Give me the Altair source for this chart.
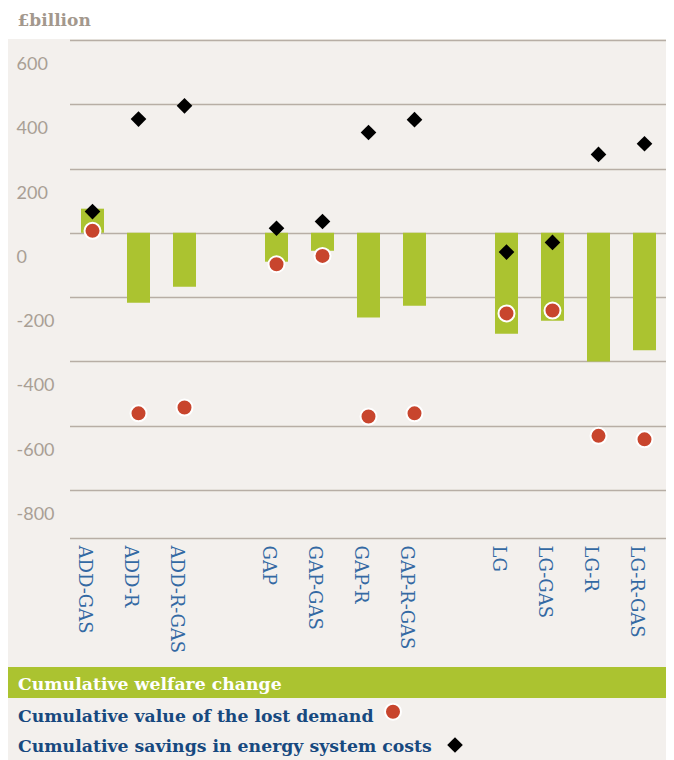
import altair as alt
import pandas as pd

# ---- data ----
scenarios = ["ADD-GAS", "ADD-R", "ADD-R-GAS", "GAP", "GAP-GAS", "GAP-R", "GAP-R-GAS",
             "LG", "LG-GAS", "LG-R", "LG-R-GAS"]
welfare = [75, -218, -168, -90, -56, -264, -227, -314, -274, -401, -366]
lost_demand = [6, -562, -544, -98, -72, -572, -562, -251, -242, -632, -643]
savings = [66, 354, 395, 14, 35, 312, 352, -60, -30, 244, 277]
x_order = ["ADD-GAS", "ADD-R", "ADD-R-GAS", "gap1", "GAP", "GAP-GAS", "GAP-R", "GAP-R-GAS",
           "gap2", "LG", "LG-GAS", "LG-R", "LG-R-GAS"]
y_ticks = [600, 400, 200, 0, -200, -400, -600, -800, -950]
legend_labels = ["Cumulative welfare change", "Cumulative value of the lost demand",
                 "Cumulative savings in energy system costs"]

df = pd.DataFrame({"scenario": scenarios, "welfare": welfare,
                   "lost": lost_demand, "savings": savings})

W, H = 658, 498
BG = "#f3f0ed"
GRID = "#b7aea5"
GREEN = "#abc330"
RED = "#c8452d"
BLUE_LBL = "#3369a3"
BLUE_LEG = "#17497f"
GREYTXT = "#a99f95"

xscale = alt.Scale(domain=x_order, range=[61.5, 659.5], paddingInner=0.5, paddingOuter=0.25)
yscale = alt.Scale(domain=[-950, 600], nice=False, zero=False)

x_axis = alt.Axis(title=None, labelAngle=90, labelAlign="left", labelBaseline="top",
                  labelPadding=7, ticks=False, domain=False, labelFont="DejaVu Serif",
                  labelFontSize=18, labelColor=BLUE_LBL, labelOverlap=False,
                  labelExpr="indexof(datum.label, 'gap') == 0 ? '' : datum.label")
y_axis = alt.Axis(title=None, values=y_ticks, grid=True, gridColor=GRID, gridWidth=1.5,
                  ticks=False, domain=False, labelAlign="left", labelPadding=-8,
                  labelBaseline="alphabetic", labelOffset=29.5, labelFont="Lato",
                  labelFontSize=18, labelColor=GREYTXT, labelOverlap=False,
                  labelExpr="datum.value < -900 ? '' : '' + datum.value")

bars = alt.Chart(df).mark_bar(color=GREEN).encode(
    x=alt.X("scenario:N", scale=xscale, sort=x_order, axis=x_axis),
    y=alt.Y("welfare:Q", scale=yscale, axis=y_axis),
)

circles = alt.Chart(df).mark_point(shape="circle", filled=True, size=256, fill=RED,
                                   stroke="white", strokeWidth=2, opacity=1).encode(
    x=alt.X("scenario:N", scale=xscale, sort=x_order, axis=x_axis),
    y=alt.Y("lost:Q", scale=yscale, axis=y_axis),
)

diamonds = alt.Chart(df).mark_point(shape="diamond", filled=True, size=246, color="black",
                                    opacity=1).encode(
    x=alt.X("scenario:N", scale=xscale, sort=x_order, axis=x_axis),
    y=alt.Y("savings:Q", scale=yscale, axis=y_axis),
)

one = pd.DataFrame({"k": [0]})

top_white = alt.Chart(one).mark_rect(color="white").encode(
    x=alt.value(-8), x2=alt.value(W), y=alt.value(-40), y2=alt.value(-1))

title = alt.Chart(one).mark_text(text="£billion", align="left", baseline="alphabetic",
                                 font="DejaVu Serif", fontWeight="bold", fontSize=17,
                                 color="#a3988d").encode(x=alt.value(9.5), y=alt.value(-14))

leg_rect = alt.Chart(one).mark_rect(color=GREEN).encode(
    x=alt.value(0), x2=alt.value(W), y=alt.value(627), y2=alt.value(658))

leg_font = dict(align="left", baseline="alphabetic", font="DejaVu Serif",
                fontWeight="bold", fontSize=17.3)
leg1 = alt.Chart(one).mark_text(text=legend_labels[0], color="white", **leg_font).encode(
    x=alt.value(10), y=alt.value(650))
leg2 = alt.Chart(one).mark_text(text=legend_labels[1], color=BLUE_LEG, **leg_font).encode(
    x=alt.value(10), y=alt.value(681.5))
leg3 = alt.Chart(one).mark_text(text=legend_labels[2], color=BLUE_LEG, **leg_font).encode(
    x=alt.value(10), y=alt.value(711.7))
leg_c = alt.Chart(one).mark_point(shape="circle", filled=True, size=256, fill=RED,
                                  stroke="white", strokeWidth=2, opacity=1).encode(
    x=alt.value(385), y=alt.value(671.7))
leg_d = alt.Chart(one).mark_point(shape="diamond", filled=True, size=246, color="black",
                                  opacity=1).encode(x=alt.value(447), y=alt.value(705))

chart = alt.layer(bars, circles, diamonds, top_white, title, leg_rect, leg1, leg2, leg3,
                  leg_c, leg_d).properties(
    width=W, height=H,
    autosize=alt.AutoSizeParams(type="none"),
    padding={"left": 0, "right": 0, "top": 32, "bottom": 222},
    background=BG,
).configure_view(stroke=None)

chart.save("out.html", embed_options={"renderer": "svg", "actions": False})
